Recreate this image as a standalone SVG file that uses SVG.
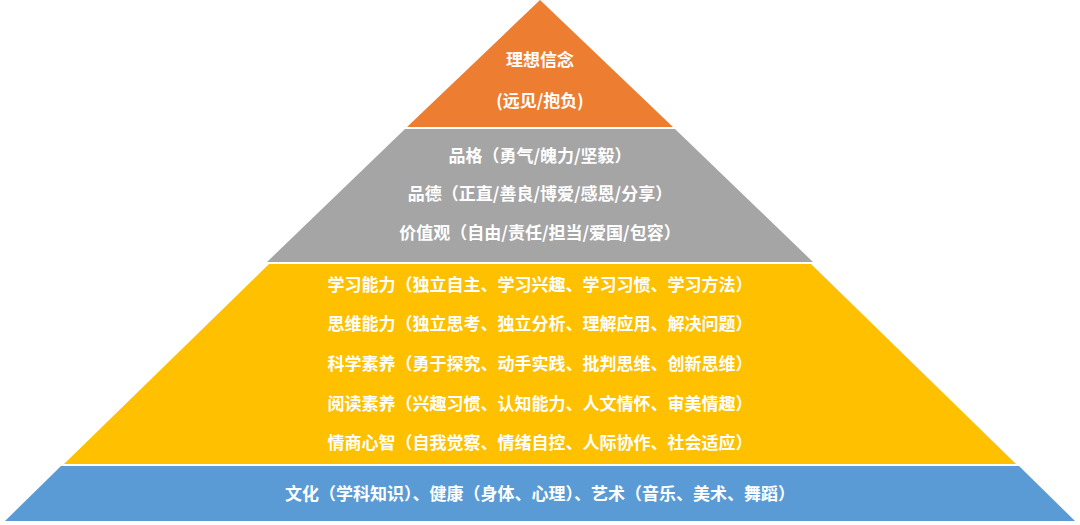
<svg xmlns="http://www.w3.org/2000/svg" width="1080" height="525" viewBox="0 0 1080 525">
<style>
text{font-family:"Noto Sans CJK SC","Liberation Sans",sans-serif;font-weight:bold;fill:#fff;text-anchor:middle;font-size:17px}
</style>
<rect width="1080" height="525" fill="#fff"/>
<g id="layer-top"><polygon points="540,0 673,127 407,127" fill="#ED7D31"/>
<text x="540" y="66">理想信念</text><text x="540" y="107">(远见/抱负)</text></g>
<g id="layer-character"><polygon points="405,129 675,129 813,262 267,262" fill="#A5A5A5"/>
<text x="540" y="162">品格（勇气/魄力/坚毅）</text>
<text x="540" y="200">品德（正直/善良/博爱/感恩/分享）</text>
<text x="540" y="239">价值观（自由/责任/担当/爱国/包容）</text></g>
<g id="layer-ability"><polygon points="269,264 811,264 1016,464 64,464" fill="#FFC000"/>
<text x="540" y="291">学习能力（独立自主、学习兴趣、学习习惯、学习方法）</text>
<text x="540" y="330">思维能力（独立思考、独立分析、理解应用、解决问题）</text>
<text x="540" y="370">科学素养（勇于探究、动手实践、批判思维、创新思维）</text>
<text x="540" y="410">阅读素养（兴趣习惯、认知能力、人文情怀、审美情趣）</text>
<text x="540" y="449">情商心智（自我觉察、情绪自控、人际协作、社会适应）</text></g>
<g id="layer-base"><polygon points="61,466 1019,466 1075,521 5,521" fill="#5B9BD5"/>
<text x="540" y="500">文化（学科知识）、健康（身体、心理）、艺术（音乐、美术、舞蹈）</text></g>
<g id="connectors"/>
</svg>
